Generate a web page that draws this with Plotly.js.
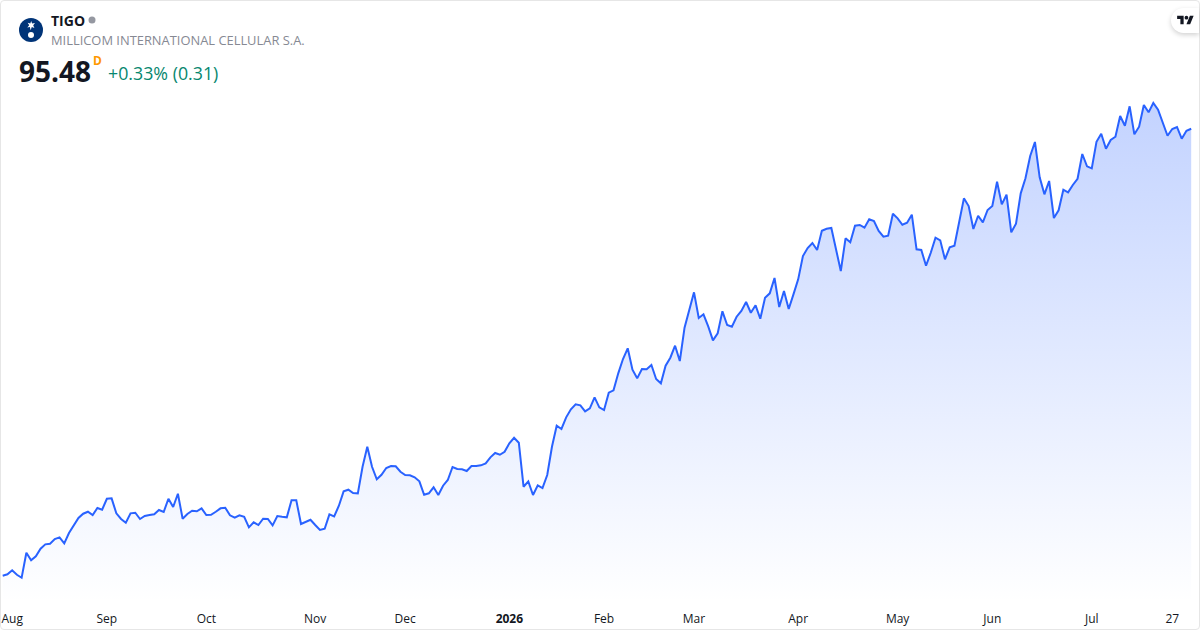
<!DOCTYPE html>
<html>
<head>
<meta charset="utf-8">
<script src="https://cdn.plot.ly/plotly-3.0.1.min.js"></script>
<style>
html,body{margin:0;padding:0;background:#fff;width:1200px;height:630px;overflow:hidden}
#chart{position:absolute;left:0;top:0;width:1200px;height:630px}
#frame{position:absolute;left:0;top:0;width:1198px;height:628px;border:1px solid #e6e6e6;border-radius:4px;pointer-events:none}
#logo{position:absolute;left:19px;top:18px;width:24px;height:24px}
#badge{position:absolute;left:1171px;top:8px;width:28px;height:25px;background:#fff;border-radius:13px 0 0 13px;box-shadow:0 2px 5px rgba(0,0,0,.18)}
#badge svg{position:absolute;left:6px;top:6px}
</style>
</head>
<body>
<div id="chart"></div>
<div id="frame"></div>
<svg id="logo" viewBox="0 0 24 24">
  <circle cx="12" cy="12" r="12" fill="#003478"/>
  <path d="M12.2 3l.9 2.6 2.9-.5-1.8 2.1 1.2 2.8-2.6-1-1.2 3.2-.7-3.2-2.6.4 1.9-2.2-1.5-2.4 2.6.6z" fill="#fff"/>
  <circle cx="12" cy="17" r="3" fill="#fff"/>
</svg>
<div id="badge"><svg width="17" height="13" viewBox="0 0 36 28"><path d="M14 22H7V11H0V4h14v18zM28 22h-8l7.5-18h8L28 22z" fill="#131722"/><circle cx="20" cy="8" r="4" fill="#131722"/></svg></div>
<script>
const closes = [
28.43,28.64,29.24,28.58,28.13,31.88,30.74,31.34,32.48,33.14,33.23,33.94,34.19,33.29,34.84,35.93,37.09,37.73,38.03,37.54,
38.59,38.33,39.98,40.04,37.79,36.94,36.38,37.79,37.88,36.94,37.39,37.54,37.64,38.29,37.99,39.98,38.74,40.73,36.98,37.69,
38.18,38.09,38.54,37.54,37.58,38.03,38.54,38.63,37.49,37.13,37.49,37.28,35.69,36.44,36.04,36.98,36.94,35.99,37.39,37.28,
37.19,39.74,39.74,36.19,36.49,36.83,36.04,35.29,35.48,37.64,37.34,38.93,41.09,41.33,40.84,40.79,44.78,47.78,44.78,42.89,
43.58,44.59,44.89,44.84,44.03,43.54,43.49,43.19,42.59,40.58,40.79,41.69,40.54,41.93,42.79,44.74,44.44,44.39,44.14,44.89,
44.89,44.99,45.29,46.19,46.84,46.58,47.03,48.29,49.13,48.38,41.78,42.59,40.54,41.99,41.59,43.54,47.78,50.93,50.44,52.19,
53.39,54.14,53.99,53.09,53.54,55.19,53.69,53.29,55.88,56.24,58.79,60.94,62.54,59.33,58.04,59.44,59.39,60.04,57.94,57.29,
59.93,61.13,62.93,60.64,65.63,68.29,70.94,67.09,67.64,65.84,63.74,64.79,68.09,66.04,65.78,67.28,68.14,69.49,67.88,68.99,
66.98,70.13,70.79,73.09,68.74,71.14,68.44,70.64,72.89,76.39,77.59,78.34,77.29,80.18,80.48,80.59,77.29,74.14,79.04,78.44,
80.93,81.04,80.63,81.89,81.64,80.14,79.28,79.43,82.73,82.04,81.08,81.38,82.58,77.39,77.29,74.93,76.88,79.13,78.74,75.89,
77.69,77.93,81.49,85.04,83.89,80.44,82.43,81.44,83.29,83.89,87.53,84.14,85.58,79.94,81.23,85.79,88.04,91.39,93.49,88.19,
85.64,87.64,82.09,83.24,86.33,85.94,87.04,87.98,91.69,89.84,89.54,93.53,94.73,92.48,93.79,94.28,97.39,95.93,98.84,94.64,
95.79,99.04,97.94,99.34,98.33,96.44,94.43,95.44,95.74,93.98,95.17,95.48
];
const sessionIndex = closes.map((_, i) => i);
const tickSessions = [2,22,43,66,85,107,127,146,168,189,209,230,247];
const tickLabels = ['Aug','Sep','Oct','Nov','Dec','<b>2026</b>','Feb','Mar','Apr','May','Jun','Jul','27'];

const FONT = '"Open Sans", "Noto Sans", sans-serif';
const PLOT_H = 603;
const yPaper = px => 1 - px / PLOT_H;
const note = (text, x, y, size, color, extra) => Object.assign({
  text, x: x / 1200, y: yPaper(y), xref: 'paper', yref: 'paper',
  xanchor: 'left', yanchor: 'middle', showarrow: false, borderpad: 0,
  font: {family: FONT, size, color}
}, extra || {});

const trace = {
  x: sessionIndex, y: closes, type: 'scatter', mode: 'lines',
  line: {color: '#2962ff', width: 2, shape: 'linear'},
  fill: 'tozeroy',
  fillcolor: 'rgba(41,98,255,0.2)',
  fillgradient: {
    type: 'vertical', start: 24.34, stop: 99.34,
    colorscale: [[0, 'rgba(41,98,255,0)'], [1, 'rgba(41,98,255,0.28)']]
  },
  hoverinfo: 'skip'
};

const layout = {
  width: 1200, height: 630,
  margin: {l: 0, r: 0, t: 0, b: 27, pad: 0},
  paper_bgcolor: '#fff', plot_bgcolor: '#fff',
  showlegend: false,
  xaxis: {
    range: [-0.57, 252.86], showgrid: false, zeroline: false, showline: false,
    tickmode: 'array', tickvals: tickSessions, ticktext: tickLabels,
    ticks: 'outside', ticklen: 5, tickwidth: 1, tickcolor: 'rgba(0,0,0,0)',
    tickangle: 0, tickfont: {family: FONT, size: 12, color: '#131722'}, fixedrange: true
  },
  yaxis: {
    range: [24.34, 114.79], showgrid: false, zeroline: false, showline: false,
    showticklabels: false, ticks: '', fixedrange: true
  },
  shapes: [{
    type: 'circle', xref: 'paper', yref: 'paper',
    x0: 88.5 / 1200, x1: 95.5 / 1200, y0: yPaper(23.5), y1: yPaper(16.5),
    fillcolor: '#9598a1', line: {width: 0}
  }],
  annotations: [
    note('<b>TIGO</b>', 50, 21, 14, '#131722'),
    note('MILLICOM INTERNATIONAL CELLULAR S.A.', 50, 40.5, 12.9, '#868993'),
    note('<b>95.48</b>', 18, 71, 28, '#131722'),
    note('<b>D</b>', 92, 61, 12, '#ff9800'),
    note('+0.33% (0.31)', 107, 73.5, 17.8, '#07876f')
  ]
};

Plotly.newPlot('chart', [trace], layout, {displayModeBar: false, staticPlot: true});
</script>
</body>
</html>
